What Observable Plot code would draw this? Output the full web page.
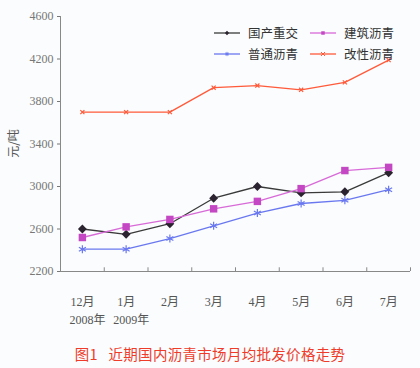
<!DOCTYPE html>
<html>
<head>
<meta charset="utf-8">
<script src="https://cdn.jsdelivr.net/npm/d3@7"></script>
<script src="https://cdn.jsdelivr.net/npm/@observablehq/plot@0.6"></script>
<style>
  html, body { margin: 0; padding: 0; background: #fafcfd; }
  #wrap { position: relative; width: 420px; height: 368px; overflow: hidden; }
  #legend { position: absolute; left: 214px; top: 23px; font-family: "Noto Sans CJK SC", sans-serif; font-size: 12.5px; color: #333; }
  .item { position: absolute; white-space: nowrap; display: flex; align-items: center; }
  .item svg { margin-right: 8px; }
  #caption { position: absolute; left: 0; width: 420px; top: 343px; text-align: center; font-family: "Noto Sans CJK SC", sans-serif; font-size: 14.5px; color: #ee3b2a; letter-spacing: 0.3px; }
  #ylab { position: absolute; left: 4px; top: 135px; transform: rotate(-90deg); transform-origin: center; font-family: "Noto Sans CJK SC", sans-serif; font-size: 12px; color: #555; width: 40px; text-align: center; margin-left: -12px; }
</style>
</head>
<body>
<div id="wrap">
  <div id="chart"></div>
  <div id="legend"></div>
  <div id="ylab">元/吨</div>
  <div id="caption">图1&nbsp;&nbsp;&nbsp;近期国内沥青市场月均批发价格走势</div>
</div>
<script>
const months = ["12月", "1月", "2月", "3月", "4月", "5月", "6月", "7月"];
const years = ["2008年", "2009年"];
const yTicks = [2200, 2600, 3000, 3400, 3800, 4200, 4600];

const seriesNames = ["国产重交", "建筑沥青", "普通沥青", "改性沥青"];
const guochan = [2600, 2550, 2650, 2890, 3000, 2940, 2950, 3130];
const jianzhu = [2520, 2620, 2690, 2790, 2860, 2980, 3150, 3180];
const putong  = [2410, 2410, 2510, 2630, 2750, 2840, 2870, 2970];
const gaixing = [3700, 3700, 3700, 3930, 3950, 3910, 3980, 4190];

const styles = {
  "国产重交": {line: "#3a3a3a", mark: "#2b2330", symbol: "diamond2", r: 4, fill: true},
  "建筑沥青": {line: "#d86ad8", mark: "#c447c4", symbol: "square", r: 4.2, fill: true},
  "普通沥青": {line: "#6a78f0", mark: "#6a78f0", symbol: "asterisk", r: 3.8, fill: false},
  "改性沥青": {line: "#ff5a3a", mark: "#ff5a3a", symbol: "times", r: 2, fill: false}
};

const valuesBySeries = [guochan, jianzhu, putong, gaixing];
const data = [];
seriesNames.forEach((s, si) => valuesBySeries[si].forEach((v, i) => data.push({series: s, i, v})));

const idx = months.map((_, i) => i);
const bounds = d3.range(1, months.length + 1).map(k => k - 0.5);

const marks = [
  Plot.ruleX([-0.5], {stroke: "#888", strokeWidth: 1}),
  Plot.ruleY([2200], {stroke: "#888", strokeWidth: 1}),
  Plot.ruleX(bounds, {x: d => d, y1: () => 2200, y2: () => 2235, stroke: "#888"}),
  Plot.axisY({ticks: yTicks, tickSize: 3, tickPadding: 4, tickFormat: d => String(d), fontSize: 12, fontFamily: "Liberation Serif", color: "#777", label: null}),
  Plot.axisX({ticks: idx, tickSize: 0, tickPadding: 26, tickFormat: i => months[i], fontSize: 12, fontFamily: "Liberation Serif, Noto Sans CJK SC", color: "#555", label: null}),
  Plot.text(years, {x: (d, i) => i, frameAnchor: "bottom", dy: 52, dx: 5, text: d => d, fontSize: 12, fontFamily: "Liberation Serif, Noto Sans CJK SC", fill: "#555"})
];

seriesNames.forEach(s => {
  const st = styles[s];
  const d = data.filter(r => r.series === s);
  marks.push(Plot.line(d, {x: "i", y: "v", stroke: st.line, strokeWidth: 1.3}));
  marks.push(Plot.dot(d, {x: "i", y: "v", symbol: st.symbol, r: st.r,
    fill: st.fill ? st.mark : "none", stroke: st.mark, strokeWidth: st.fill ? 0 : 1.2}));
});

const chart = Plot.plot({
  width: 420,
  height: 340,
  marginLeft: 60,
  marginRight: 10,
  marginTop: 16,
  marginBottom: 69,
  style: {background: "transparent", overflow: "visible"},
  x: {type: "linear", domain: [-0.5, 7.5], axis: null},
  y: {domain: [2200, 4600], axis: null},
  marks
});
document.getElementById("chart").appendChild(chart);

// legend
const legend = document.getElementById("legend");
const legPos = [[0, 0], [96, 0], [0, 21], [96, 21]];
const symMap = {diamond2: d3.symbolDiamond2, square: d3.symbolSquare, asterisk: d3.symbolAsterisk, times: d3.symbolTimes};
seriesNames.forEach((s, k) => {
  const st = styles[s];
  const div = document.createElement("div");
  div.className = "item";
  div.style.left = legPos[k][0] + "px";
  div.style.top = legPos[k][1] + "px";
  const sym = d3.symbol(symMap[st.symbol], 12)();
  div.innerHTML = `<svg width="26" height="10"><line x1="0" x2="26" y1="5" y2="5" stroke="${st.line}" stroke-width="1.3"/>` +
    `<path transform="translate(13,5)" d="${sym}" fill="${st.fill ? st.mark : "none"}" stroke="${st.mark}" stroke-width="${st.fill ? 0 : 1}"/></svg><span>${s}</span>`;
  legend.appendChild(div);
});
</script>
</body>
</html>
